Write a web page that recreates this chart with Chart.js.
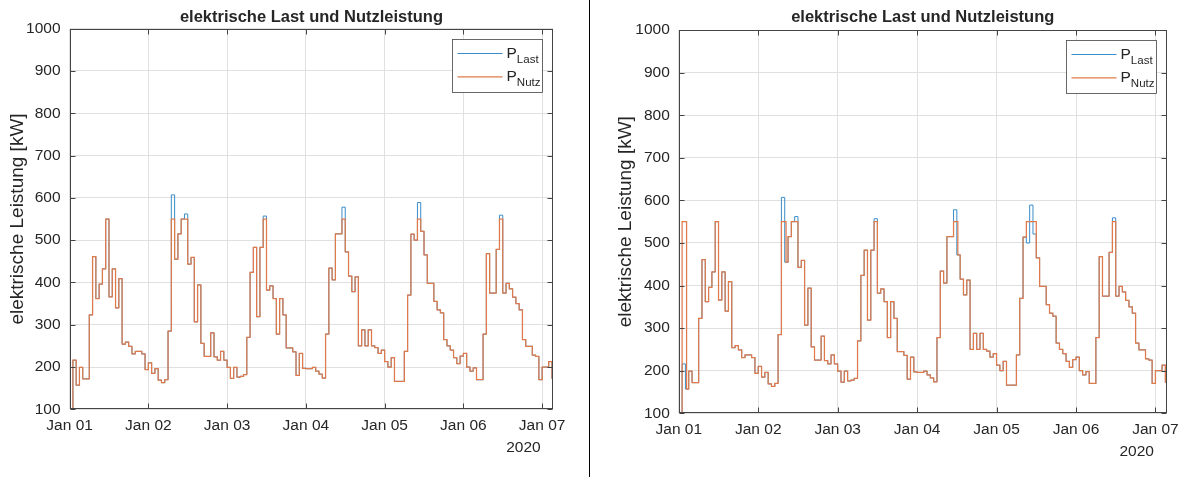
<!DOCTYPE html>
<html>
<head>
<meta charset="utf-8">
<script src="https://cdn.jsdelivr.net/npm/chart.js@4.4.0/dist/chart.umd.min.js"></script>
<style>
  html, body { margin: 0; padding: 0; background: #fff; }
  body { width: 1179px; height: 477px; position: relative; overflow: hidden; }
  #left-chart { position: absolute; left: 0; top: 0; }
  #right-chart { position: absolute; left: 591px; top: 0; }
  #divider { position: absolute; left: 589px; top: 0; width: 1px; height: 477px; background: #000; }
</style>
</head>
<body>
<canvas id="left-chart" width="590" height="477"></canvas>
<div id="divider"></div>
<canvas id="right-chart" width="588" height="477"></canvas>
<script>
// hourly values, hour 0 = Jan 01 00:00
const lastLoad = [
  0, 216, 157, 199, 172, 172, 323, 461, 362, 396,
  432, 550, 366, 432, 340, 409, 254, 259, 249, 231,
  237, 237, 231, 194, 210, 185, 196, 169, 163, 170,
  285, 607, 455, 515, 550, 562, 443, 459, 307, 394,
  256, 225, 225, 281, 224, 216, 237, 216, 199, 173,
  199, 176, 178, 182, 270, 424, 483, 319, 483, 557,
  382, 392, 362, 278, 362, 323, 245, 245, 236, 180,
  232, 197, 196, 196, 199, 190, 183, 174, 278, 434,
  406, 515, 515, 578, 472, 415, 378, 413, 250, 288,
  250, 288, 250, 246, 232, 240, 213, 200, 222, 166,
  166, 166, 237, 370, 514, 500, 589, 521, 465, 398,
  398, 355, 335, 328, 265, 250, 240, 222, 208, 226,
  232, 200, 190, 198, 170, 170, 278, 468, 375, 375,
  478, 559, 375, 398, 385, 365, 350, 335, 265, 249,
  249, 228, 225, 170, 200, 200, 213, 172
];

const nutzLeft = [
  0, 216, 157, 199, 172, 172, 323, 461, 362, 396,
  432, 550, 366, 432, 340, 409, 254, 259, 249, 231,
  237, 237, 231, 194, 210, 185, 196, 169, 163, 170,
  285, 550, 455, 515, 550, 550, 443, 459, 307, 394,
  256, 225, 225, 281, 224, 216, 237, 216, 199, 173,
  199, 176, 178, 182, 270, 424, 483, 319, 483, 550,
  382, 392, 362, 278, 362, 323, 245, 245, 236, 180,
  232, 197, 196, 196, 199, 190, 183, 174, 278, 434,
  406, 515, 515, 550, 472, 415, 378, 413, 250, 288,
  250, 288, 250, 246, 232, 240, 213, 200, 222, 166,
  166, 166, 237, 370, 514, 500, 550, 521, 465, 398,
  398, 355, 335, 328, 265, 250, 240, 222, 208, 226,
  232, 200, 190, 198, 170, 170, 278, 468, 375, 375,
  478, 550, 375, 398, 385, 365, 350, 335, 265, 249,
  249, 228, 225, 170, 200, 200, 213, 172
];

const nutzRight = [
  0, 550, 157, 199, 172, 172, 323, 461, 362, 396,
  432, 550, 366, 432, 340, 409, 254, 259, 249, 231,
  237, 237, 231, 194, 210, 185, 196, 169, 163, 170,
  285, 550, 455, 515, 550, 550, 443, 459, 307, 394,
  256, 225, 225, 281, 224, 216, 237, 216, 199, 173,
  199, 176, 178, 182, 270, 424, 483, 319, 483, 550,
  382, 392, 362, 278, 362, 323, 245, 245, 236, 180,
  232, 197, 196, 196, 199, 190, 183, 174, 278, 434,
  406, 515, 515, 550, 472, 415, 378, 413, 250, 288,
  250, 288, 250, 246, 232, 240, 213, 200, 222, 166,
  166, 166, 237, 370, 514, 550, 550, 550, 465, 398,
  398, 355, 335, 328, 265, 250, 240, 222, 208, 226,
  232, 200, 190, 198, 170, 170, 278, 468, 375, 375,
  478, 550, 375, 398, 385, 365, 350, 335, 265, 249,
  249, 228, 225, 170, 200, 200, 213, 172
];
// in the right plot a few Nutz steps happen a little after the full hour
const nutzRightShift = [[2, 2.35], [32, 32.4], [84, 84.3]];

const dayTickHours = [0, 24, 48, 72, 96, 120, 144];
const dayLabels = ['Jan 01', 'Jan 02', 'Jan 03', 'Jan 04', 'Jan 05', 'Jan 06', 'Jan 07'];
const yearLabel = '2020';
const powerMin = 100;
const powerMax = 1000;
const powerStep = 100;
const lastHour = 147.4;

const seriesLabels = ['P', 'P'];
const seriesSubs = ['Last', 'Nutz'];
const blue = '#3b8dc9';
const orange = '#e07a4a';
const ink = '#262626';
const fontName = '"Liberation Sans", Arial, sans-serif';

const hours = lastLoad.map((v, i) => i);

function toPoints(values, shifts) {
  return values.map((v, i) => {
    let x = hours[i];
    (shifts || []).forEach(s => { if (s[0] === x) x = s[1]; });
    return {x: x, y: v};
  });
}

// axes box, inward tick marks, legend and year label
const matlabLook = {
  id: 'matlabLook',
  afterDatasetsDraw(chart) {
    const {ctx, chartArea: a, scales} = chart;
    ctx.save();
    ctx.strokeStyle = '#444';
    ctx.lineWidth = 1;
    const L = Math.round(a.left) + 0.5, R = Math.round(a.right) - 0.5;
    const T = Math.round(a.top) + 0.5, B = Math.round(a.bottom) - 0.5;
    ctx.strokeRect(L, T, R - L, B - T);
    ctx.beginPath();
    dayTickHours.forEach(h => {
      const x = Math.round(scales.x.getPixelForValue(h)) + 0.5;
      ctx.moveTo(x, B); ctx.lineTo(x, B - 5);
      ctx.moveTo(x, T); ctx.lineTo(x, T + 5);
    });
    for (let v = powerMin; v <= powerMax; v += powerStep) {
      const y = Math.round(scales.y.getPixelForValue(v)) + 0.5;
      ctx.moveTo(L, y); ctx.lineTo(L + 5, y);
      ctx.moveTo(R, y); ctx.lineTo(R - 5, y);
    }
    ctx.stroke();

    // legend
    const bw = 90, bh = 53;
    const bx = Math.round(a.right - 11 - bw) + 0.5;
    const by = Math.round(a.top + 10) + 0.5;
    ctx.fillStyle = '#fff';
    ctx.fillRect(bx, by, bw, bh);
    ctx.strokeStyle = '#444';
    ctx.lineWidth = 0.8;
    ctx.strokeRect(bx, by, bw, bh);
    chart.data.datasets.forEach((ds, i) => {
      const ly = by + 14 + i * 23.4;
      ctx.strokeStyle = ds.borderColor;
      ctx.lineWidth = 1.1;
      ctx.beginPath();
      ctx.moveTo(bx + 5, ly); ctx.lineTo(bx + 50, ly);
      ctx.stroke();
      ctx.fillStyle = ink;
      ctx.textAlign = 'left';
      ctx.textBaseline = 'alphabetic';
      ctx.font = '15.5px ' + fontName;
      ctx.fillText(seriesLabels[i], bx + 54, ly + 4.5);
      const pw = ctx.measureText(seriesLabels[i]).width;
      ctx.font = '11.5px ' + fontName;
      ctx.fillText(seriesSubs[i], bx + 54 + pw, ly + 9);
    });

    // year under the last day label
    ctx.fillStyle = ink;
    ctx.font = '15.5px ' + fontName;
    ctx.textAlign = 'right';
    ctx.textBaseline = 'middle';
    ctx.fillText(yearLabel, scales.x.getPixelForValue(dayTickHours[dayTickHours.length - 1]) - 1.5, a.bottom + 38);
    ctx.restore();
  }
};

function makeChart(canvasId, nutzPoints, geo) {
  return new Chart(document.getElementById(canvasId), {
    type: 'line',
    data: {
      datasets: [{
        label: 'P_Last',
        data: toPoints(lastLoad),
        borderColor: blue,
        borderWidth: 1,
        stepped: 'before',
        pointRadius: 0,
        order: 1
      }, {
        label: 'P_Nutz',
        data: nutzPoints,
        borderColor: orange,
        borderWidth: 1.25,
        stepped: 'before',
        pointRadius: 0,
        order: 0
      }]
    },
    options: {
      responsive: false,
      animation: false,
      events: [],
      layout: {padding: {left: geo.padLeft, right: geo.padRight, top: 3, bottom: 10}},
      plugins: {
        legend: {display: false},
        tooltip: {enabled: false},
        title: {
          display: true,
          text: 'elektrische Last und Nutzleistung',
          fullSize: false,
          color: ink,
          font: {family: fontName, size: 16.5, weight: 'bold', lineHeight: 1.2},
          padding: {top: 4.1, bottom: geo.titleBottom}
        }
      },
      scales: {
        x: {
          type: 'linear',
          min: 0,
          max: lastHour,
          afterBuildTicks: scale => { scale.ticks = dayTickHours.map(v => ({value: v})); },
          afterFit: scale => { scale.height = geo.xHeight; scale.paddingLeft = 0; scale.paddingRight = 0; },
          ticks: {
            autoSkip: false,
            maxRotation: 0,
            padding: 7,
            color: ink,
            font: {family: fontName, size: 15.5},
            callback: (v) => dayLabels[dayTickHours.indexOf(v)]
          },
          grid: {color: '#e0e0e0', drawTicks: false},
          border: {display: false}
        },
        y: {
          min: powerMin,
          max: powerMax,
          afterFit: scale => { scale.width = geo.yWidth; scale.paddingTop = 0; scale.paddingBottom = 0; },
          ticks: {
            stepSize: powerStep,
            padding: 9,
            color: ink,
            font: {family: fontName, size: 15.5},
            callback: (v) => String(v)
          },
          grid: {color: '#e0e0e0', drawTicks: false},
          border: {display: false},
          title: {
            display: true,
            text: 'elektrische Leistung [kW]',
            color: ink,
            font: {family: fontName, size: 19},
            padding: {top: 1.5, bottom: 1.5}
          }
        }
      }
    },
    plugins: [matlabLook]
  });
}

makeChart('left-chart', toPoints(nutzLeft),
  {padLeft: 5.1, padRight: 36.7, yWidth: 64.5, xHeight: 57.7, titleBottom: 1.8});
makeChart('right-chart', toPoints(nutzRight, nutzRightShift),
  {padLeft: 22.1, padRight: 12.3, yWidth: 65.7, xHeight: 53.7, titleBottom: 3.2});
</script>
</body>
</html>
